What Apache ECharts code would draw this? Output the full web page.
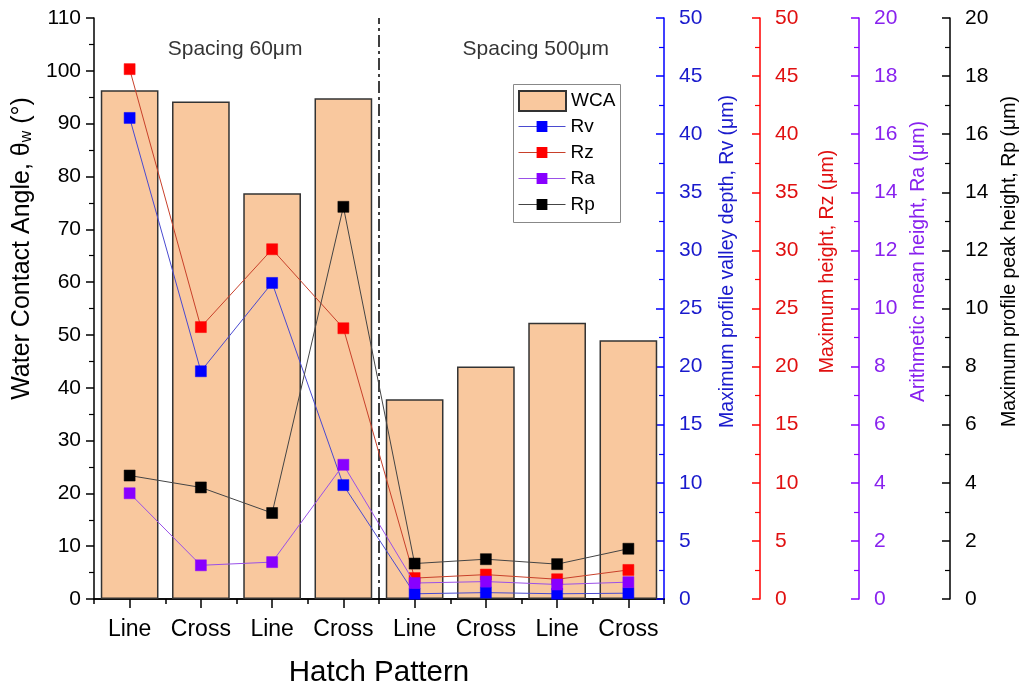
<!DOCTYPE html>
<html>
<head>
<meta charset="utf-8">
<script src="https://cdn.jsdelivr.net/npm/echarts@6/dist/echarts.min.js"></script>
<style>html,body{margin:0;padding:0;background:#fff}#c{width:1023px;height:690px}</style>
</head>
<body>
<div id="c"></div>
<script>
const categories = ['Line', 'Cross', 'Line', 'Cross', 'Line', 'Cross', 'Line', 'Cross'];
const wca = [96.3, 94.2, 76.8, 94.8, 37.8, 44.0, 52.3, 49.0];
const rv = [41.4, 19.6, 27.2, 9.8, 0.45, 0.55, 0.45, 0.5];
const rz = [45.6, 23.4, 30.1, 23.3, 1.8, 2.1, 1.7, 2.5];
const ra = [3.64, 1.16, 1.27, 4.62, 0.55, 0.6, 0.5, 0.58];
const rp = [4.25, 3.84, 2.96, 13.5, 1.22, 1.37, 1.2, 1.73];
const groupLabels = ['Spacing 60\u03bcm', 'Spacing 500\u03bcm'];

const FONT = '"Liberation Sans", Arial, sans-serif';
const BLUE = '#0000FF', RED = '#FF0000', PURPLE = '#8800FF', BLACK = '#000000';
const LINE_COLORS = {Rv: '#4a4ad0', Rz: '#c8402a', Ra: '#9a50e8', Rp: '#444444'};

function rightAxis(color, offset, max, interval, name, gap, labelColor) {
  return {
    type: 'value', position: 'right', offset: offset, min: 0, max: max, interval: interval,
    axisLine: {show: true, lineStyle: {color: color, width: 1.5}},
    axisTick: {show: true, inside: true, length: 8, lineStyle: {color: color, width: 1.5}},
    minorTick: {show: true, splitNumber: 2, length: 5, lineStyle: {color: color, width: 1.2}},
    splitLine: {show: false},
    axisLabel: {color: labelColor, fontSize: 21, fontFamily: FONT, margin: 15},
    name: name, nameLocation: 'middle', nameRotate: 90, nameGap: gap,
    nameTextStyle: {color: labelColor, fontSize: 19.5, fontFamily: FONT, padding: [0, 0, 0, 94]}
  };
}

const chart = echarts.init(document.getElementById('c'), null, {renderer: 'canvas'});
const lineSeries = (name, data, yIdx, markColor, z) => ({
  name: name, type: 'line', xAxisIndex: 1, yAxisIndex: yIdx, data: data,
  symbol: 'rect', symbolSize: 11, z: z,
  itemStyle: {color: markColor, borderColor: markColor, borderWidth: 0.5},
  lineStyle: {color: LINE_COLORS[name], width: 1}
});

chart.setOption({
  animation: false,
  textStyle: {fontFamily: FONT},
  grid: {left: 94, right: 359, top: 18, bottom: 91, containLabel: false, outerBoundsMode: 'none'},
  graphic: [{
    type: 'rect', left: 513, top: 84, z: 100, silent: true,
    shape: {width: 107, height: 138},
    style: {fill: 'rgba(0,0,0,0)', stroke: '#888', lineWidth: 1}
  }],
  legend: [{
    orient: 'vertical', left: 513, top: 84,
    itemWidth: 47, itemHeight: 20, itemGap: 6,
    padding: [6, 6, 5, 5],
    textStyle: {fontSize: 19, fontFamily: FONT, color: '#000'},
    data: [{name: 'WCA', icon: 'rect'}]
  }, {
    orient: 'vertical', left: 513, top: 112,
    itemWidth: 47, itemHeight: 11, itemGap: 7,
    padding: [5, 6, 5, 5],
    textStyle: {fontSize: 19, fontFamily: FONT, color: '#000'},
    data: ['Rv', 'Rz', 'Ra', 'Rp'].map(n => ({name: n, lineStyle: {color: LINE_COLORS[n], width: 1}}))
  }],
  xAxis: [
    {type: 'category', data: categories, position: 'bottom',
     axisLine: {lineStyle: {color: '#000', width: 1.5}},
     axisTick: {show: true, length: 5, lineStyle: {color: '#000', width: 1.5}},
     axisLabel: {show: false},
     name: 'Hatch Pattern', nameLocation: 'middle', nameGap: 59,
     nameTextStyle: {fontSize: 29.5, color: '#000', fontFamily: FONT}},
    {type: 'category', data: categories, position: 'bottom',
     axisLine: {show: false},
     axisTick: {show: true, alignWithLabel: true, interval: 0, length: 9, lineStyle: {color: '#000', width: 1.5}},
     axisLabel: {show: true, interval: 0, fontSize: 23, color: '#000', fontFamily: FONT, margin: 19}},
    {type: 'category', data: categories, position: 'top',
     axisLine: {lineStyle: {color: '#000', width: 1.5}},
     axisTick: {show: true, inside: true, length: 5, lineStyle: {color: '#000', width: 1.5}},
     axisLabel: {show: false}},
    {type: 'category', data: categories, position: 'top',
     axisLine: {show: false},
     axisTick: {show: true, inside: true, alignWithLabel: true, interval: 0, length: 9, lineStyle: {color: '#000', width: 1.5}},
     axisLabel: {show: false}},
    {type: 'value', min: 0, max: 8, show: false}
  ],
  yAxis: [
    {type: 'value', position: 'left', min: 0, max: 110, interval: 10,
     axisLine: {show: true, lineStyle: {color: '#000', width: 1.5}},
     axisTick: {show: true, inside: false, length: 8, lineStyle: {color: '#000', width: 1.5}},
     minorTick: {show: true, splitNumber: 2, length: 5, lineStyle: {color: '#000', width: 1.2}},
     splitLine: {show: false},
     axisLabel: {color: '#000', fontSize: 21, fontFamily: FONT, margin: 13},
     name: '{t|Water Contact Angle, \u03b8}{s|w}{t| (\u00b0)}',
     nameLocation: 'middle', nameRotate: 90, nameGap: 49,
     nameTextStyle: {padding: [0, 0, 0, 120], rich: {
       t: {fontSize: 25, color: '#000', fontFamily: FONT},
       s: {fontSize: 16, color: '#000', fontFamily: FONT, verticalAlign: 'bottom', padding: [9, 0, 0, 0]}
     }}},
    rightAxis(BLUE, 0, 50, 5, 'Maximum profile valley depth, Rv (\u03bcm)', 54, '#1a1acc'),
    rightAxis(RED, 96, 50, 5, 'Maximum height, Rz (\u03bcm)', 58, '#e01010'),
    rightAxis(PURPLE, 195, 20, 2, 'Arithmetic mean height, Ra (\u03bcm)', 44, '#8822ee'),
    rightAxis(BLACK, 286, 20, 2, 'Maximum profile peak height, Rp (\u03bcm)', 48, '#000')
  ],
  series: [
    {name: 'WCA', type: 'bar', xAxisIndex: 1, yAxisIndex: 0, data: wca,
     barCategoryGap: '19%', z: 1,
     itemStyle: {color: '#F9C89E', borderColor: '#333', borderWidth: 1.5}},
    {name: 'divider', type: 'scatter', xAxisIndex: 4, yAxisIndex: 0, data: [],
     silent: true, z: 2,
     markLine: {silent: true, symbol: 'none', label: {show: false},
       lineStyle: {color: '#000', width: 1.5, type: [12, 4, 3, 4]},
       data: [{xAxis: 4}]}},
    {name: 'groups', type: 'scatter', xAxisIndex: 4, yAxisIndex: 0, silent: true,
     symbolSize: 0, z: 3,
     data: [{value: [1.98, 104], label: {formatter: groupLabels[0]}},
            {value: [6.2, 104], label: {formatter: groupLabels[1]}}],
     label: {show: true, position: 'inside', fontSize: 21, color: '#000', fontFamily: FONT}},
    lineSeries('Rv', rv, 1, BLUE, 4),
    lineSeries('Rz', rz, 2, RED, 5),
    lineSeries('Ra', ra, 3, PURPLE, 6),
    lineSeries('Rp', rp, 4, BLACK, 7)
  ]
});
</script>
</body>
</html>
